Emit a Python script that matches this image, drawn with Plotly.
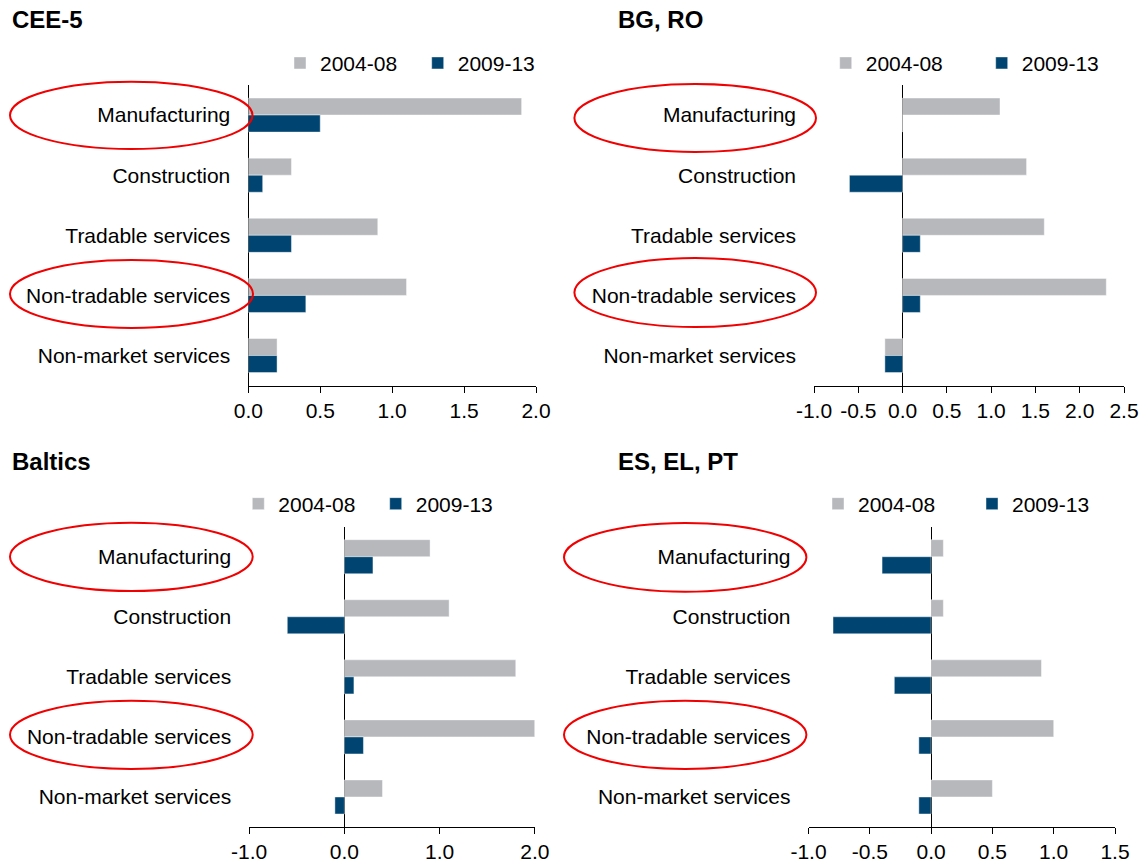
import plotly.graph_objects as go

# ---------------- data ----------------
categories = ["Manufacturing", "Construction", "Tradable services",
              "Non-tradable services", "Non-market services"]
series_names = ["2004-08", "2009-13"]
panel_titles = ["CEE-5", "BG, RO", "Baltics", "ES, EL, PT"]

cee5_2004_08 = [1.9, 0.3, 0.9, 1.1, 0.2]
cee5_2009_13 = [0.5, 0.1, 0.3, 0.4, 0.2]

bgro_2004_08 = [1.1, 1.4, 1.6, 2.3, -0.2]
bgro_2009_13 = [0.0, -0.6, 0.2, 0.2, -0.2]

baltics_2004_08 = [0.9, 1.1, 1.8, 2.0, 0.4]
baltics_2009_13 = [0.3, -0.6, 0.1, 0.2, -0.1]

eselpt_2004_08 = [0.1, 0.1, 0.9, 1.0, 0.5]
eselpt_2009_13 = [-0.4, -0.8, -0.3, -0.1, -0.1]

cee5_ticks = [0.0, 0.5, 1.0, 1.5, 2.0]
cee5_ticktext = ["0.0", "0.5", "1.0", "1.5", "2.0"]
bgro_ticks = [-1.0, -0.5, 0.0, 0.5, 1.0, 1.5, 2.0, 2.5]
bgro_ticktext = ["-1.0", "-0.5", "0.0", "0.5", "1.0", "1.5", "2.0", "2.5"]
baltics_ticks = [-1.0, 0.0, 1.0, 2.0]
baltics_ticktext = ["-1.0", "0.0", "1.0", "2.0"]
eselpt_ticks = [-1.0, -0.5, 0.0, 0.5, 1.0, 1.5]
eselpt_ticktext = ["-1.0", "-0.5", "0.0", "0.5", "1.0", "1.5"]

# ---------------- styling / layout ----------------
W, H = 1144, 863
GRAY = "#B7B8BC"
BLUE = "#004571"
FONT = "Liberation Sans, Arial, sans-serif"

def px(x):
    return x / W

def py(y):
    return 1 - y / H

panels = [
    dict(title=panel_titles[0], a=cee5_2004_08, b=cee5_2009_13,
         ticks=cee5_ticks, ticktext=cee5_ticktext, rng=[0, 2.0],
         xdom=(248.3, 536), ydom=(85, 385.6), title_xy=(10, 19),
         legend_x=280, legend_y=63.3, entry=92.7,
         ellipses=[(10, 252.5, 81.7, 149), (10, 253, 260, 328)]),
    dict(title=panel_titles[1], a=bgro_2004_08, b=bgro_2009_13,
         ticks=bgro_ticks, ticktext=bgro_ticktext, rng=[-1.0, 2.5],
         xdom=(814, 1124), ydom=(85, 385.6), title_xy=(615.5, 19),
         legend_x=825.7, legend_y=63.3, entry=111,
         ellipses=[(574.4, 816, 84, 152), (574.4, 816, 258, 327)]),
    dict(title=panel_titles[2], a=baltics_2004_08, b=baltics_2009_13,
         ticks=baltics_ticks, ticktext=baltics_ticktext, rng=[-1.0, 2.0],
         xdom=(249.2, 534.8), ydom=(526.7, 827), title_xy=(10, 461.7),
         legend_x=238.3, legend_y=504, entry=92.4,
         ellipses=[(10, 252.7, 522.7, 591), (10, 252.7, 700.7, 769)]),
    dict(title=panel_titles[3], a=eselpt_2004_08, b=eselpt_2009_13,
         ticks=eselpt_ticks, ticktext=eselpt_ticktext, rng=[-1.0, 1.5],
         xdom=(808.5, 1115), ydom=(526.7, 827), title_xy=(615.5, 461.7),
         legend_x=818, legend_y=504, entry=109,
         ellipses=[(564, 806.4, 523, 591.7), (564, 806.4, 700.7, 769)]),
]

fig = go.Figure()
layout = dict(
    width=W, height=H, autosize=False,
    margin=dict(l=0, r=0, t=0, b=0, pad=0, autoexpand=False),
    paper_bgcolor="white", plot_bgcolor="white",
    barmode="group", bargap=0.433, bargroupgap=0.0,
    font=dict(family=FONT, size=21, color="black"),
    annotations=[], shapes=[],
)

for i, p in enumerate(panels):
    n = "" if i == 0 else str(i + 1)
    xa, ya = "x" + n, "y" + n
    lg = "legend" + n
    for name, vals, col in ((series_names[0], p["a"], GRAY),
                            (series_names[1], p["b"], BLUE)):
        fig.add_trace(go.Bar(
            x=vals, y=categories, name=name, orientation="h",
            marker=dict(color=col, line=dict(color="rgba(255,255,255,0.55)", width=0.8)),
            xaxis=xa, yaxis=ya, legend=lg, showlegend=True,
            hovertemplate="%{y}: %{x}<extra>" + name + "</extra>",
        ))
    layout["xaxis" + n] = dict(
        domain=[px(p["xdom"][0]), px(p["xdom"][1])], anchor=ya,
        range=p["rng"], tickvals=p["ticks"], ticktext=p["ticktext"],
        showgrid=False, showline=True, linecolor="black", linewidth=1,
        ticks="outside", ticklen=6, tickcolor="black", tickwidth=1,
        zeroline=True, zerolinecolor="black", zerolinewidth=1,
        tickfont=dict(size=21, family=FONT, color="black"),
        automargin=False, fixedrange=True,
    )
    layout["yaxis" + n] = dict(
        domain=[py(p["ydom"][1]), py(p["ydom"][0])], anchor=xa,
        autorange="reversed", showgrid=False, showline=False,
        zeroline=False, ticks="", ticklabelstandoff=17,
        tickfont=dict(size=21, family=FONT, color="black"),
        automargin=False, fixedrange=True,
    )
    layout[lg] = dict(
        orientation="h", x=px(p["legend_x"]), y=py(p["legend_y"]),
        xanchor="left", yanchor="middle", bgcolor="rgba(0,0,0,0)",
        entrywidth=p["entry"], entrywidthmode="pixels",
        font=dict(size=21, family=FONT, color="black"), traceorder="normal",
    )
    layout["annotations"].append(dict(
        text="<b>" + p["title"] + "</b>", xref="paper", yref="paper",
        x=px(p["title_xy"][0]), y=py(p["title_xy"][1]),
        xanchor="left", yanchor="middle", showarrow=False,
        font=dict(size=24, family=FONT, color="black"),
    ))
    for (x0, x1, y0, y1) in p["ellipses"]:
        layout["shapes"].append(dict(
            type="circle", xref="paper", yref="paper",
            x0=px(x0), x1=px(x1), y0=py(y1), y1=py(y0),
            line=dict(color="#F00000", width=2), layer="above",
        ))

fig.update_layout(**layout)
fig.write_html(
    "out.html",
    config={"displayModeBar": False},
    post_script="document.body.style.margin='0px';document.body.style.padding='0px';"
                "document.body.style.overflow='hidden';"
                "document.documentElement.style.overflow='hidden';",
)
